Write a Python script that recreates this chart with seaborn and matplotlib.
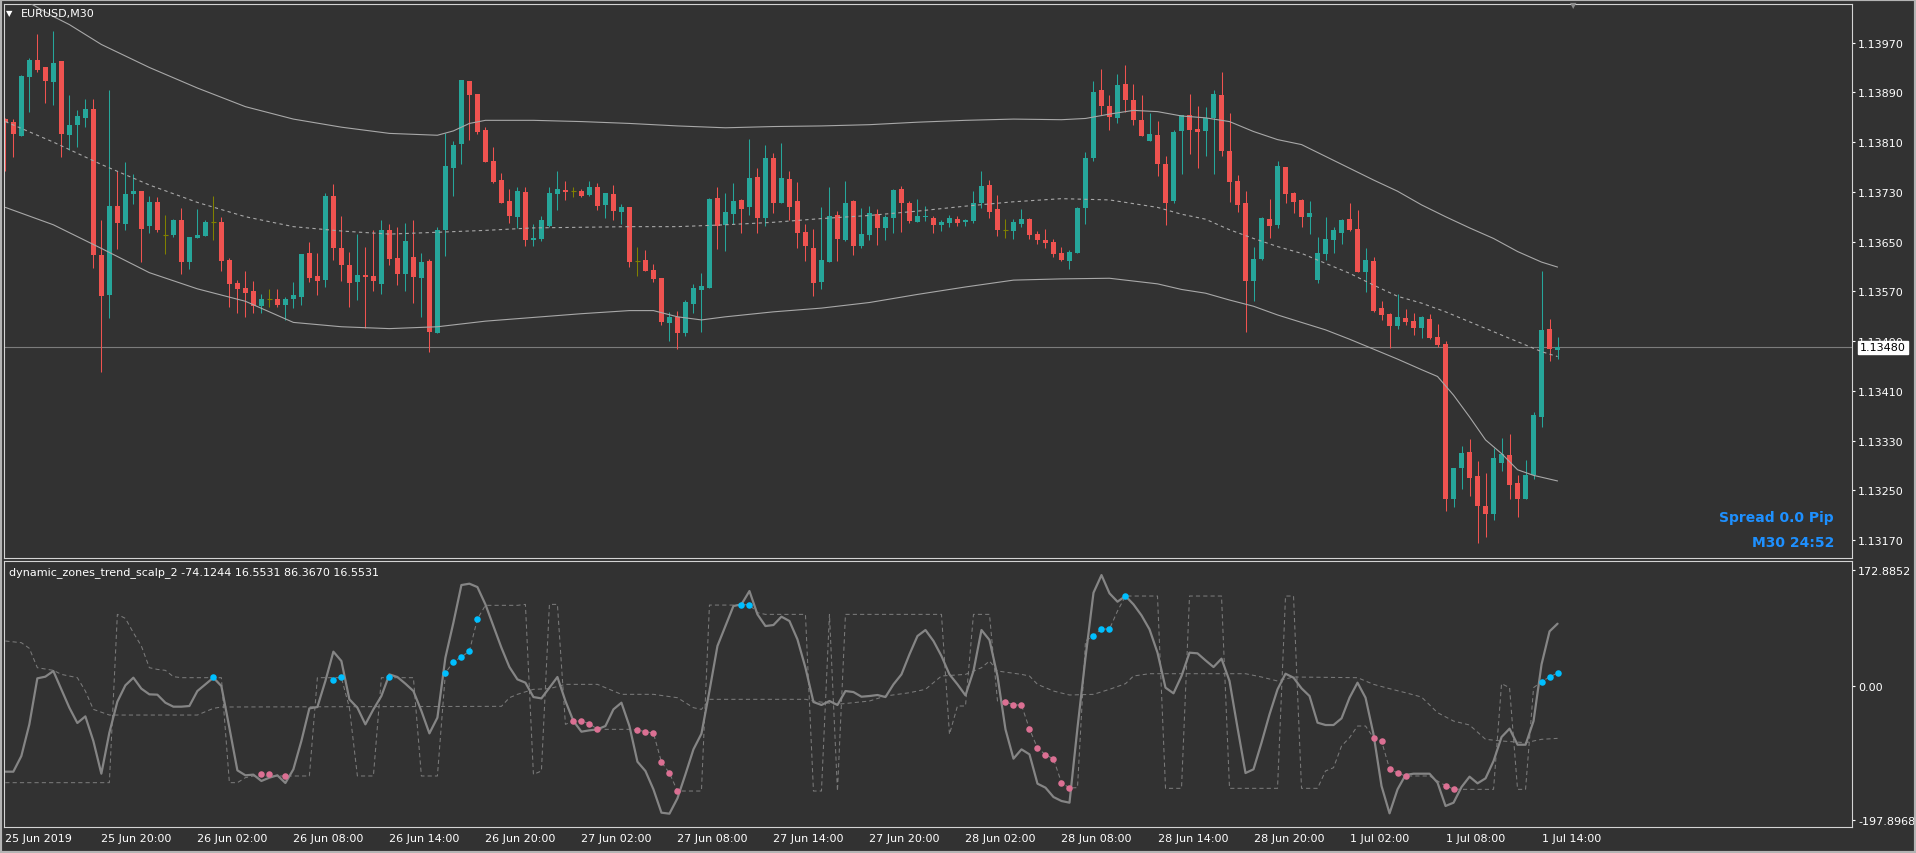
import matplotlib
matplotlib.use("Agg")
import matplotlib.pyplot as plt
import matplotlib.transforms as mtransforms
from matplotlib.patches import Rectangle
from matplotlib.ticker import FormatStrFormatter
import pandas as pd
import seaborn as sns

OUTPUT_FILE = "out.png"
W, H = 1916, 854

# EURUSD M30, bar 0 = 25 Jun 2019 14:00
opens = [
    1.13847, 1.13843, 1.13820, 1.13915, 1.13942, 1.13930, 1.13907, 1.13941, 1.13822, 1.13838,
    1.13849, 1.13864, 1.13629, 1.13564, 1.13708, 1.13679, 1.13727, 1.13732, 1.13675, 1.13714,
    1.13660, 1.13661, 1.13685, 1.13617, 1.13656, 1.13659, 1.13681, 1.13682, 1.13621, 1.13584,
    1.13576, 1.13571, 1.13547, 1.13558, 1.13558, 1.13548, 1.13558, 1.13561, 1.13632, 1.13595,
    1.13588, 1.13724, 1.13640, 1.13613, 1.13585, 1.13596, 1.13595, 1.13582, 1.13669, 1.13624,
    1.13598, 1.13625, 1.13592, 1.13619, 1.13503, 1.13669, 1.13769, 1.13807, 1.13909, 1.13888,
    1.13830, 1.13780, 1.13749, 1.13716, 1.13690, 1.13730, 1.13653, 1.13654, 1.13675, 1.13727,
    1.13733, 1.13732, 1.13732, 1.13725, 1.13737, 1.13709, 1.13727, 1.13698, 1.13706, 1.13618,
    1.13621, 1.13605, 1.13592, 1.13519, 1.13529, 1.13503, 1.13550, 1.13572, 1.13576, 1.13720,
    1.13677, 1.13695, 1.13717, 1.13706, 1.13754, 1.13688, 1.13785, 1.13712, 1.13751, 1.13716,
    1.13666, 1.13640, 1.13585, 1.13617, 1.13693, 1.13653, 1.13716, 1.13643, 1.13661, 1.13695,
    1.13672, 1.13688, 1.13735, 1.13712, 1.13682, 1.13690, 1.13688, 1.13677, 1.13680, 1.13687,
    1.13682, 1.13683, 1.13712, 1.13741, 1.13703, 1.13668, 1.13667, 1.13678, 1.13687, 1.13662,
    1.13653, 1.13650, 1.13632, 1.13619, 1.13632, 1.13704, 1.13785, 1.13893, 1.13868, 1.13849,
    1.13904, 1.13878, 1.13846, 1.13812, 1.13822, 1.13775, 1.13716, 1.13828, 1.13854, 1.13831,
    1.13828, 1.13848, 1.13886, 1.13796, 1.13748, 1.13712, 1.13587, 1.13622, 1.13687, 1.13677,
    1.13770, 1.13728, 1.13717, 1.13690, 1.13588, 1.13630, 1.13653, 1.13664, 1.13687, 1.13670,
    1.13601, 1.13619, 1.13543, 1.13534, 1.13514, 1.13527, 1.13522, 1.13511, 1.13526, 1.13497,
    1.13485, 1.13236, 1.13286, 1.13312, 1.13273, 1.13225, 1.13212, 1.13294, 1.13307, 1.13262,
    1.13236, 1.13275, 1.13368, 1.13510, 1.13476,
]
highs = [
    1.13849, 1.13847, 1.13918, 1.13946, 1.13984, 1.13931, 1.13988, 1.13941, 1.13885, 1.13862,
    1.13880, 1.13880, 1.13685, 1.13894, 1.13764, 1.13778, 1.13759, 1.13732, 1.13724, 1.13722,
    1.13693, 1.13687, 1.13704, 1.13658, 1.13703, 1.13685, 1.13724, 1.13690, 1.13624, 1.13588,
    1.13603, 1.13587, 1.13566, 1.13574, 1.13574, 1.13561, 1.13585, 1.13630, 1.13650, 1.13632,
    1.13728, 1.13743, 1.13691, 1.13633, 1.13662, 1.13642, 1.13669, 1.13685, 1.13679, 1.13674,
    1.13680, 1.13685, 1.13632, 1.13622, 1.13674, 1.13825, 1.13811, 1.13910, 1.13909, 1.13888,
    1.13835, 1.13802, 1.13761, 1.13735, 1.13737, 1.13737, 1.13679, 1.13691, 1.13738, 1.13764,
    1.13748, 1.13737, 1.13735, 1.13748, 1.13745, 1.13728, 1.13741, 1.13711, 1.13706, 1.13642,
    1.13637, 1.13614, 1.13592, 1.13537, 1.13539, 1.13556, 1.13582, 1.13600, 1.13720, 1.13737,
    1.13728, 1.13745, 1.13719, 1.13815, 1.13769, 1.13806, 1.13793, 1.13809, 1.13764, 1.13746,
    1.13679, 1.13671, 1.13706, 1.13737, 1.13699, 1.13748, 1.13717, 1.13704, 1.13708, 1.13703,
    1.13693, 1.13735, 1.13740, 1.13716, 1.13719, 1.13708, 1.13691, 1.13685, 1.13693, 1.13691,
    1.13687, 1.13732, 1.13764, 1.13749, 1.13725, 1.13687, 1.13687, 1.13703, 1.13688, 1.13667,
    1.13671, 1.13654, 1.13642, 1.13637, 1.13706, 1.13794, 1.13909, 1.13928, 1.13885, 1.13920,
    1.13934, 1.13904, 1.13885, 1.13856, 1.13844, 1.13788, 1.13830, 1.13854, 1.13888, 1.13868,
    1.13867, 1.13894, 1.13922, 1.13856, 1.13757, 1.13732, 1.13642, 1.13690, 1.13719, 1.13780,
    1.13770, 1.13730, 1.13719, 1.13716, 1.13658, 1.13690, 1.13674, 1.13687, 1.13712, 1.13701,
    1.13640, 1.13625, 1.13555, 1.13535, 1.13566, 1.13542, 1.13535, 1.13530, 1.13534, 1.13518,
    1.13490, 1.13286, 1.13321, 1.13333, 1.13297, 1.13278, 1.13318, 1.13334, 1.13341, 1.13275,
    1.13299, 1.13376, 1.13603, 1.13526, 1.13497,
]
lows = [
    1.13764, 1.13786, 1.13819, 1.13859, 1.13923, 1.13873, 1.13870, 1.13786, 1.13798, 1.13802,
    1.13835, 1.13608, 1.13440, 1.13527, 1.13638, 1.13669, 1.13711, 1.13617, 1.13664, 1.13666,
    1.13630, 1.13658, 1.13598, 1.13606, 1.13656, 1.13659, 1.13653, 1.13603, 1.13545, 1.13535,
    1.13529, 1.13535, 1.13535, 1.13545, 1.13545, 1.13524, 1.13543, 1.13548, 1.13585, 1.13564,
    1.13577, 1.13621, 1.13587, 1.13545, 1.13556, 1.13511, 1.13571, 1.13566, 1.13613, 1.13580,
    1.13571, 1.13551, 1.13529, 1.13473, 1.13503, 1.13627, 1.13724, 1.13775, 1.13814, 1.13823,
    1.13778, 1.13745, 1.13712, 1.13680, 1.13672, 1.13643, 1.13643, 1.13651, 1.13674, 1.13701,
    1.13717, 1.13722, 1.13722, 1.13724, 1.13701, 1.13688, 1.13685, 1.13679, 1.13609, 1.13595,
    1.13603, 1.13585, 1.13516, 1.13490, 1.13477, 1.13498, 1.13535, 1.13505, 1.13576, 1.13638,
    1.13635, 1.13679, 1.13664, 1.13693, 1.13664, 1.13675, 1.13696, 1.13712, 1.13685, 1.13640,
    1.13619, 1.13563, 1.13574, 1.13617, 1.13619, 1.13651, 1.13629, 1.13640, 1.13653, 1.13645,
    1.13653, 1.13664, 1.13666, 1.13680, 1.13682, 1.13683, 1.13664, 1.13667, 1.13674, 1.13675,
    1.13675, 1.13680, 1.13704, 1.13688, 1.13659, 1.13656, 1.13654, 1.13674, 1.13654, 1.13646,
    1.13640, 1.13625, 1.13619, 1.13606, 1.13632, 1.13679, 1.13780, 1.13854, 1.13830, 1.13841,
    1.13859, 1.13838, 1.13819, 1.13811, 1.13756, 1.13677, 1.13712, 1.13759, 1.13791, 1.13769,
    1.13788, 1.13759, 1.13788, 1.13714, 1.13698, 1.13505, 1.13555, 1.13621, 1.13656, 1.13672,
    1.13712, 1.13696, 1.13674, 1.13662, 1.13584, 1.13621, 1.13632, 1.13646, 1.13667, 1.13601,
    1.13569, 1.13537, 1.13524, 1.13479, 1.13510, 1.13516, 1.13500, 1.13495, 1.13493, 1.13480,
    1.13217, 1.13223, 1.13252, 1.13241, 1.13165, 1.13175, 1.13202, 1.13281, 1.13236, 1.13207,
    1.13236, 1.13268, 1.13352, 1.13458, 1.13461,
]
closes = [
    1.13843, 1.13823, 1.13917, 1.13942, 1.13926, 1.13909, 1.13938, 1.13823, 1.13838, 1.13852,
    1.13864, 1.13629, 1.13563, 1.13708, 1.13680, 1.13727, 1.13732, 1.13671, 1.13714, 1.13669,
    1.13660, 1.13685, 1.13617, 1.13658, 1.13661, 1.13682, 1.13681, 1.13619, 1.13582, 1.13574,
    1.13568, 1.13547, 1.13558, 1.13558, 1.13548, 1.13558, 1.13564, 1.13630, 1.13592, 1.13587,
    1.13724, 1.13640, 1.13613, 1.13584, 1.13596, 1.13593, 1.13587, 1.13669, 1.13622, 1.13598,
    1.13651, 1.13593, 1.13617, 1.13505, 1.13669, 1.13772, 1.13806, 1.13910, 1.13886, 1.13827,
    1.13778, 1.13746, 1.13712, 1.13691, 1.13732, 1.13653, 1.13656, 1.13685, 1.13728, 1.13735,
    1.13730, 1.13732, 1.13724, 1.13737, 1.13708, 1.13728, 1.13699, 1.13706, 1.13617, 1.13618,
    1.13603, 1.13590, 1.13521, 1.13529, 1.13503, 1.13553, 1.13576, 1.13579, 1.13719, 1.13675,
    1.13698, 1.13716, 1.13703, 1.13753, 1.13688, 1.13785, 1.13712, 1.13753, 1.13706, 1.13664,
    1.13643, 1.13584, 1.13621, 1.13691, 1.13654, 1.13712, 1.13643, 1.13662, 1.13696, 1.13672,
    1.13690, 1.13733, 1.13712, 1.13683, 1.13691, 1.13691, 1.13677, 1.13682, 1.13688, 1.13680,
    1.13685, 1.13712, 1.13740, 1.13698, 1.13669, 1.13668, 1.13682, 1.13687, 1.13661, 1.13653,
    1.13648, 1.13630, 1.13621, 1.13633, 1.13704, 1.13785, 1.13891, 1.13868, 1.13851, 1.13902,
    1.13878, 1.13846, 1.13819, 1.13823, 1.13774, 1.13712, 1.13827, 1.13854, 1.13830, 1.13827,
    1.13848, 1.13888, 1.13796, 1.13746, 1.13709, 1.13587, 1.13622, 1.13688, 1.13675, 1.13772,
    1.13727, 1.13714, 1.13690, 1.13696, 1.13632, 1.13654, 1.13669, 1.13685, 1.13669, 1.13601,
    1.13621, 1.13539, 1.13532, 1.13514, 1.13529, 1.13521, 1.13511, 1.13529, 1.13495, 1.13484,
    1.13236, 1.13286, 1.13310, 1.13270, 1.13225, 1.13212, 1.13302, 1.13308, 1.13258, 1.13236,
    1.13275, 1.13371, 1.13508, 1.13477, 1.13480,
]

# envelope bands on the price chart (read at these bars)
band_up_bars = [0, 3, 6, 8, 12, 18, 24, 30, 36, 42, 48, 54, 56, 58, 60, 66, 72, 78, 84, 90,
                96, 102, 108, 114, 120, 126, 132, 135, 138, 141, 144, 147, 150, 153, 156,
                159, 162, 165, 168, 171, 174, 177, 180, 183, 186, 189, 192, 194]
band_up = [1.14060, 1.14034, 1.14012, 1.13999, 1.13967, 1.13930, 1.13897, 1.13867, 1.13847,
           1.13834, 1.13824, 1.13821, 1.13828, 1.13840, 1.13845, 1.13845, 1.13843, 1.13840,
           1.13836, 1.13833, 1.13835, 1.13836, 1.13838, 1.13842, 1.13845, 1.13847, 1.13846,
           1.13848, 1.13855, 1.13861, 1.13859, 1.13852, 1.13849, 1.13843, 1.13827, 1.13814,
           1.13806, 1.13787, 1.13768, 1.13749, 1.13731, 1.13709, 1.13690, 1.13672, 1.13655,
           1.13634, 1.13617, 1.13609]
band_mid_bars = [0, 6, 12, 18, 24, 30, 36, 42, 48, 54, 60, 66, 72, 78, 84, 90, 96, 102, 108,
                 114, 120, 126, 132, 138, 141, 144, 147, 150, 153, 156, 159, 162, 165, 168,
                 171, 174, 177, 180, 183, 186, 189, 192, 194]
band_mid = [1.13843, 1.13810, 1.13774, 1.13741, 1.13713, 1.13690, 1.13674, 1.13667, 1.13662,
            1.13665, 1.13668, 1.13672, 1.13673, 1.13674, 1.13674, 1.13677, 1.13681, 1.13687,
            1.13692, 1.13699, 1.13707, 1.13714, 1.13719, 1.13717, 1.13711, 1.13705, 1.13694,
            1.13686, 1.13669, 1.13655, 1.13642, 1.13631, 1.13615, 1.13599, 1.13580, 1.13562,
            1.13551, 1.13537, 1.13521, 1.13505, 1.13489, 1.13473, 1.13465]
band_lo_bars = [0, 6, 12, 18, 24, 30, 36, 42, 48, 54, 60, 66, 72, 78, 81, 84, 87, 90, 96, 102,
                108, 114, 120, 126, 132, 138, 144, 147, 150, 153, 156, 159, 162, 165, 168,
                171, 174, 177, 179, 181, 183, 185, 187, 189, 191, 194]
band_lo = [1.13705, 1.13677, 1.13639, 1.13600, 1.13574, 1.13554, 1.13520, 1.13513, 1.13510,
           1.13513, 1.13522, 1.13528, 1.13534, 1.13539, 1.13539, 1.13529, 1.13524, 1.13529,
           1.13537, 1.13543, 1.13552, 1.13565, 1.13577, 1.13588, 1.13590, 1.13591, 1.13582,
           1.13573, 1.13567, 1.13556, 1.13546, 1.13532, 1.13520, 1.13508, 1.13493, 1.13477,
           1.13461, 1.13444, 1.13433, 1.13403, 1.13368, 1.13331, 1.13309, 1.13283, 1.13274,
           1.13265]

# dynamic_zones_trend_scalp_2 : main oscillator, one value per bar
osc_main = [
    -126.6, -126.6, -103.4, -56.4, 11.8, 14.3, 22.7, -4.5, -31.7, -54.4,
    -44.6, -81.1, -129.6, -68.8, -22.8, 1.4, 12.8, -3.5, -11.9, -12.4,
    -24.3, -30.2, -30.2, -29.2, -7.0, 2.9, 12.8, 0.4, -61.4, -124.6,
    -132.0, -131.0, -140.4, -135.5, -132.0, -143.4, -123.1, -81.1, -32.7, -30.7,
    7.9, 51.4, 37.5, -19.3, -31.7, -56.4, -34.2, -14.4, 17.7, 13.8,
    3.9, -7.0, -36.6, -69.8, -46.5, 42.5, 94.4, 150.2, 152.2, 147.2,
    121.5, 89.4, 57.3, 28.6, 10.3, 5.4, -15.9, -17.9, -2.0, 13.8,
    -21.8, -51.5, -67.3, -65.3, -63.8, -58.9, -34.2, -24.3, -58.9, -111.8,
    -125.6, -152.8, -187.4, -188.9, -166.1, -130.6, -93.5, -70.3, -7.0, 59.8,
    89.4, 119.1, 121.5, 141.3, 106.7, 89.4, 90.9, 103.3, 96.8, 69.6,
    27.6, -23.3, -27.7, -21.8, -27.7, -7.0, -8.5, -15.4, -14.4, -12.9,
    -15.9, 2.9, 17.7, 47.4, 74.6, 83.5, 67.2, 44.9, 17.7, 2.9,
    -13.4, 22.7, 83.5, 68.7, 15.3, -63.8, -107.3, -93.5, -100.9, -144.4,
    -150.3, -164.2, -170.1, -172.6, -61.4, 42.5, 138.8, 165.0, 137.9, 125.5,
    133.9, 121.5, 105.2, 84.5, 49.9, -2.0, -10.4, 15.3, 49.9, 48.9,
    38.5, 28.6, 41.0, 7.9, -61.4, -128.6, -123.1, -83.6, -41.6, -4.5,
    18.7, 12.8, -3.0, -14.4, -53.9, -57.4, -57.4, -47.5, -16.9, 5.4,
    -16.9, -71.2, -147.9, -188.4, -152.8, -131.5, -129.6, -129.6, -129.6, -142.9,
    -177.5, -172.6, -149.3, -134.0, -143.9, -136.5, -110.8, -75.2, -62.8, -86.6,
    -86.6, -51.5, 32.6, 81.5, 92.9,
]
# trend/zone step line, one value per bar
osc_trend = [
    -142.9, -142.9, -142.9, -142.9, -142.9, -142.9, -142.9, -142.9, -142.9, -142.9,
    -142.9, -142.9, -142.9, -142.9, 106.7, 100.8, 79.5, 59.8, 27.6, 25.1,
    23.7, 14.3, 12.8, 12.8, 12.8, 12.8, 12.8, 12.8, -142.9, -142.9,
    -135.5, -133.0, -133.0, -133.0, -133.0, -133.0, -133.0, -133.0, -133.0, 12.8,
    12.8, 12.8, 12.8, -31.7, -133.0, -133.0, -133.0, 12.8, 12.8, 12.8,
    12.8, 12.8, -133.0, -133.0, -133.0, 19.7, 36.5, 43.4, 52.3, 99.8,
    120.1, 120.1, 120.1, 120.1, 120.1, 121.5, -130.6, -125.6, 121.5, 121.5,
    -56.4, -51.5, -51.5, -55.4, -63.8, -63.8, -63.8, -63.8, -63.8, -64.8,
    -67.3, -69.3, -112.3, -128.6, -155.3, -155.3, -155.3, -155.3, 120.5, 120.5,
    120.5, 120.5, 121.0, 121.0, 109.2, 106.7, 106.7, 106.7, 106.7, 106.7,
    106.7, -155.3, -155.3, 106.7, -155.3, 106.7, 106.7, 106.7, 106.7, 106.7,
    106.7, 106.7, 106.7, 106.7, 106.7, 106.7, 106.7, 106.7, -71.2, -29.2,
    -29.2, 106.7, 106.7, 106.7, -21.8, -22.8, -27.7, -27.7, -63.3, -91.5,
    -101.4, -107.8, -142.9, -150.8, -150.3, 67.2, 75.1, 85.0, 85.0, 111.7,
    133.9, 133.9, 133.9, 133.9, 133.9, -151.3, -151.3, -151.3, 133.9, 133.9,
    133.9, 133.9, 133.9, -151.3, -151.3, -151.3, -151.3, -151.3, -151.3, -151.3,
    133.9, 133.9, -151.3, -151.3, -151.3, -125.6, -120.7, -88.5, -76.2, -58.9,
    -58.9, -76.2, -81.1, -122.1, -128.6, -133.0, -133.0, -133.0, -133.0, -140.4,
    -147.4, -152.3, -152.8, -152.8, -152.8, -152.8, -152.8, 3.9, -2.0, -152.8,
    -152.8, -2.0, 6.9, 13.8, 19.7,
]
# slow zone line (read at these bars)
zone_bars = [0, 2, 3, 4, 6, 7, 9, 10, 11, 13, 24, 26, 27, 62, 63, 64, 66, 68, 70, 74,
             77, 81, 84, 86, 87, 88, 100, 101, 104, 108, 110, 113, 115, 117, 120, 122, 123,
             124, 127, 128, 129, 131, 133, 136, 138, 140, 141, 143, 155, 157, 159, 161, 169,
             171, 173, 175, 177, 179, 181, 183, 185, 187, 190, 192, 194]
zone_vals = [67.2, 64.7, 56.3, 27.6, 23.7, 17.7, 12.8, -7.0, -34.2, -42.6, -42.6, -32.7,
             -30.7, -29.7, -16.9, -11.9, -4.5, -3.5, 2.9, 2.9, -11.9, -11.9, -16.9, -31.7,
             -34.2, -19.3, -19.3, -21.8, -26.7, -21.8, -14.4, -9.5, -4.5, 15.3, 17.7, 27.6,
             37.5, 22.7, 17.7, 15.3, 2.9, -7.0, -12.9, -11.9, -4.5, 3.9, 15.3, 18.7, 18.7,
             13.8, 7.9, 13.8, 12.8, 2.9, -3.5, -9.5, -15.9, -39.1, -51.5, -57.4, -78.6,
             -81.1, -83.6, -78.6, -77.2]
# signal dots
up_bars = [26, 41, 42, 48, 55, 56, 57, 58, 59, 92, 93, 136, 137, 138, 140, 192, 193, 194]
up_vals = [13.8, 9.3, 13.8, 13.8, 19.7, 36.5, 43.4, 52.3, 99.8, 121.0, 121.0, 75.1, 85.0,
           85.0, 133.9, 6.9, 13.8, 19.7]
dn_bars = [32, 33, 35, 71, 72, 73, 74, 79, 80, 81, 82, 83, 84, 125, 126, 127, 128, 129,
           130, 131, 132, 133, 171, 172, 173, 174, 175, 180, 181]
dn_vals = [-129.6, -129.6, -133.0, -51.5, -51.5, -55.4, -62.8, -64.8, -67.3, -69.3,
           -112.3, -128.6, -155.3, -22.8, -27.7, -27.7, -63.3, -91.5, -101.4, -107.8,
           -142.9, -150.8, -76.2, -81.1, -122.1, -128.6, -133.0, -147.4, -152.3]

time_ticks = [0, 12, 24, 36, 48, 60, 72, 84, 96, 108, 120, 132, 144, 156, 168, 180, 192]
time_labels = ["25 Jun 2019", "25 Jun 20:00", "26 Jun 02:00", "26 Jun 08:00", "26 Jun 14:00",
               "26 Jun 20:00", "27 Jun 02:00", "27 Jun 08:00", "27 Jun 14:00", "27 Jun 20:00",
               "28 Jun 02:00", "28 Jun 08:00", "28 Jun 14:00", "28 Jun 20:00", "1 Jul 02:00",
               "1 Jul 08:00", "1 Jul 14:00"]
price_ticks = [1.13170, 1.13250, 1.13330, 1.13410, 1.13490, 1.13570, 1.13650, 1.13730,
               1.13810, 1.13890, 1.13970]
osc_ticks = [-197.8968, 0.0, 172.8852]
osc_tick_labels = ["-197.8968", "0.00", "172.8852"]

SYMBOL = "EURUSD,M30"
IND_LABEL = "dynamic_zones_trend_scalp_2 -74.1244 16.5531 86.3670 16.5531"
SPREAD_TXT = "Spread 0.0 Pip"
TIMER_TXT = "M30 24:52"

BG = "#323232"
UP = "#26a69a"
DOWN = "#ef5350"
DOJI = "#808000"
FRAME = "#d4d4d4"


def fx(px):
    return px / W


def fy(py):
    return 1 - py / H


def style_axis(ax):
    ax.set_facecolor(BG)
    ax.grid(False)
    for s in ax.spines.values():
        s.set_color(FRAME)
        s.set_linewidth(0.8)
    ax.yaxis.tick_right()
    ax.tick_params(axis="y", colors="white", labelsize=8, length=2.5, width=0.8, pad=2)
    ax.set_xlim(-0.23, 230.8)
    ax.set_xlabel("")
    ax.set_ylabel("")


def draw_chart():
    sns.set_theme(style="dark")
    plt.rcParams["font.family"] = ["DejaVu Sans"]

    fig = plt.figure(figsize=(W / 100, H / 100), dpi=100, facecolor=BG)
    left, right = 3.5, 1852
    ax_p = fig.add_axes([fx(left), fy(559.3), fx(right) - fx(left), fy(4.5) - fy(559.3)])
    ax_i = fig.add_axes([fx(left), fy(828.3), fx(right) - fx(left), fy(561.7) - fy(828.3)])

    # --- candles
    df = pd.DataFrame({"o": opens, "h": highs, "l": lows, "c": closes})
    df["bar"] = range(len(df))
    df["col"] = [UP if c > o else DOWN if c < o else DOJI for o, c in zip(opens, closes)]
    ax_p.vlines(df["bar"], df["l"], df["h"], colors=df["col"], linewidth=0.75, zorder=2)
    body = df[df["o"] != df["c"]]
    ax_p.bar(body["bar"], (body["c"] - body["o"]).abs(), bottom=body[["o", "c"]].min(axis=1),
             width=0.625, color=body["col"], linewidth=0, zorder=2)
    doji = df[df["o"] == df["c"]]
    ax_p.hlines(doji["o"], doji["bar"] - 0.33, doji["bar"] + 0.33, colors=DOJI,
                linewidth=0.8, zorder=2)

    # --- bands
    sns.lineplot(x=band_up_bars, y=band_up, ax=ax_p, color="#a8a8a8", linewidth=0.8, zorder=3)
    sns.lineplot(x=band_lo_bars, y=band_lo, ax=ax_p, color="#a8a8a8", linewidth=0.8, zorder=3)
    sns.lineplot(x=band_mid_bars, y=band_mid, ax=ax_p, color="#a8a8a8", linewidth=0.8,
                 linestyle=(0, (3, 3)), zorder=3)

    last = closes[-1]
    ax_p.axhline(last, color="#7c7c7c", linewidth=0.8, zorder=1)

    style_axis(ax_p)
    ax_p.set_ylim(1.131406, 1.140329)
    ax_p.set_yticks(price_ticks)
    ax_p.yaxis.set_major_formatter(FormatStrFormatter("%.5f"))
    ax_p.set_xticks([])

    ax_w = (fx(right) - fx(left)) * W
    trans = mtransforms.blended_transform_factory(ax_p.transAxes, ax_p.transData)
    ax_p.text(1 + 8 / ax_w, last, f"{last:.5f}", transform=trans, ha="left", va="center",
              fontsize=8, color="black", clip_on=False, zorder=10,
              bbox=dict(boxstyle="square,pad=0.15", facecolor="white", edgecolor="white"))

    # --- indicator window
    bars = list(range(len(osc_main)))
    sns.lineplot(x=bars, y=osc_trend, ax=ax_i, color="#7a7a7a", linewidth=0.75,
                 linestyle=(0, (4, 3)))
    sns.lineplot(x=zone_bars, y=zone_vals, ax=ax_i, color="#7a7a7a", linewidth=0.75,
                 linestyle=(0, (4, 3)))
    sns.lineplot(x=bars, y=osc_main, ax=ax_i, color="#858585", linewidth=1.6)
    sns.scatterplot(x=up_bars, y=up_vals, ax=ax_i, color="#00bfff", s=22, linewidth=0, zorder=5)
    sns.scatterplot(x=dn_bars, y=dn_vals, ax=ax_i, color="#db7093", s=22, linewidth=0, zorder=5)

    style_axis(ax_i)
    ax_i.set_ylim(-209.1, 186.3)
    ax_i.set_yticks(osc_ticks)
    ax_i.set_yticklabels(osc_tick_labels)
    ax_i.set_xticks(time_ticks)
    ax_i.set_xticklabels(time_labels, ha="left")
    ax_i.tick_params(axis="x", colors="white", labelsize=8, length=3, width=0.8, pad=1)

    # --- labels / decorations
    fig.text(fx(6), fy(14), "\u25bc", color="white", fontsize=6, ha="left", va="center")
    fig.text(fx(21), fy(14), SYMBOL, color="white", fontsize=8, ha="left", va="center")
    fig.text(fx(9), fy(573), IND_LABEL, color="white", fontsize=8, ha="left", va="center")
    fig.text(fx(1834), fy(518), SPREAD_TXT, color="#1e90ff", fontsize=10, fontweight="bold",
             ha="right", va="center")
    fig.text(fx(1834), fy(543), TIMER_TXT, color="#1e90ff", fontsize=10, fontweight="bold",
             ha="right", va="center")
    fig.text(fx(1573), fy(6), "\u25bc", color="#8a8a8a", fontsize=6, ha="center", va="center")
    fig.add_artist(Rectangle((0, 0), 1, 1, transform=fig.transFigure, fill=False,
                             edgecolor="#b4b4b4", linewidth=3))

    fig.savefig(OUTPUT_FILE, dpi=100, facecolor=fig.get_facecolor())
    plt.close(fig)
    print("saved", OUTPUT_FILE)


if __name__ == "__main__":
    draw_chart()
